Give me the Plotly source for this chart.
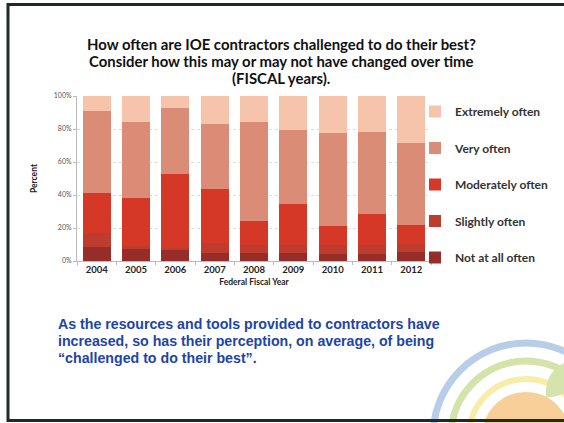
import plotly.graph_objects as go

years = ["2004", "2005", "2006", "2007", "2008", "2009", "2010", "2011", "2012"]
series_names = ["Not at all often", "Slightly often", "Moderately often", "Very often", "Extremely often"]
not_at_all = [8.5, 7.5, 6.5, 5.0, 5.0, 5.0, 4.5, 4.5, 5.5]
slightly = [8.5, 1.5, 1.5, 6.0, 4.5, 4.5, 5.0, 5.0, 5.0]
moderately = [24.4, 29.4, 44.7, 32.6, 14.9, 25.0, 11.7, 18.8, 11.3]
very = [49.7, 45.6, 40.2, 39.2, 60.0, 44.9, 56.2, 50.1, 49.5]
extremely = [8.9, 16.0, 7.1, 17.2, 15.6, 20.6, 22.6, 21.6, 28.7]
colors = ["#962D28", "#BE3C2D", "#D63828", "#DA8C76", "#F5C4AA"]

W, H = 564, 423
L, R, T, B = 77, 431, 96, 261


def px(x):
    return (x - L) / (R - L)


def py(y):
    return (B - y) / (B - T)


fig = go.Figure()
for i, (name, vals, col) in enumerate(zip(series_names, [not_at_all, slightly, moderately, very, extremely], colors)):
    fig.add_trace(go.Bar(x=years, y=vals, name=name, marker=dict(color=col, line=dict(width=0)),
                         legendgroup=name, legendrank=100 - i))

font_main = "Lato, Carlito, 'Open Sans', sans-serif"

fig.update_layout(
    width=W, height=H,
    margin=dict(l=L, r=W - R, t=T, b=H - B, autoexpand=False),
    barmode="stack", bargap=0.29,
    paper_bgcolor="#FFFFFF", plot_bgcolor="#FFFFFF",
    showlegend=True,
    legend=dict(x=px(415), y=py(97), xanchor="left", yanchor="top",
                traceorder="grouped", tracegroupgap=17.5, maxheight=400,
                font=dict(family=font_main, size=12, color="#333333", weight="bold"),
                itemwidth=30, bgcolor="rgba(0,0,0,0)"),
    xaxis=dict(showline=True, linecolor="#BBBBBB", linewidth=1, ticks="outside", tickson="boundaries",
               ticklen=3, tickcolor="#BBBBBB",
               tickfont=dict(family=font_main, size=9.5, color="#222222", weight="bold"),
               title=dict(text="Federal Fiscal Year", standoff=4,
                          font=dict(family=font_main, size=8.5, color="#222222", weight="bold"))),
    yaxis=dict(range=[0, 100], dtick=20, ticksuffix="%", showline=True, linecolor="#BBBBBB",
               ticks="outside", ticklen=3, tickcolor="#BBBBBB",
               showgrid=True, gridcolor="#DDDDDD", griddash="dot", gridwidth=1,
               tickfont=dict(family=font_main, size=7, color="#555555"),
               title=dict(text="Percent", standoff=14,
                          font=dict(family=font_main, size=8.5, color="#222222", weight="bold"))),
)

# Title lines
for txt, yy in [("How often are IOE contractors challenged to do their best?", 44),
                ("Consider how this may or may not have changed over time", 61),
                ("(FISCAL years).", 78)]:
    fig.add_annotation(text=txt, xref="paper", yref="paper", x=px(281), y=py(yy),
                       xanchor="center", yanchor="middle", showarrow=False,
                       font=dict(family=font_main, size=14.9, color="#111111", weight="bold"))

# Blue commentary text
for txt, yy in [("As the resources and tools provided to contractors have", 324),
                ("increased, so has their perception, on average, of being", 341),
                ("\u201cchallenged to do their best\u201d.", 358)]:
    fig.add_annotation(text=txt, xref="paper", yref="paper", x=px(56), y=py(yy),
                       xanchor="left", yanchor="middle", showarrow=False,
                       font=dict(family="'Liberation Sans', Arial, sans-serif", size=14.2,
                                 color="#1E44A8", weight="bold"))

# Slide frame
fig.add_shape(type="path", xref="paper", yref="paper",
              path=f"M {px(600)} {py(4.5)} L {px(8)} {py(4.5)} L {px(8)} {py(420.5)} L {px(600)} {py(420.5)}",
              line=dict(color="#1E2A24", width=3))

# Logo decoration (bottom right)
cx, cy = 526, 436
for r, col, w in [(93, "#B8CEE8", 7), (75, "#D3E3A9", 7), (57, "#F8EDA8", 6)]:
    fig.add_shape(type="circle", xref="paper", yref="paper",
                  x0=px(cx - r), x1=px(cx + r), y0=py(cy + r), y1=py(cy - r),
                  line=dict(color=col, width=w), layer="below")
rr = 44
fig.add_shape(type="circle", xref="paper", yref="paper",
              x0=px(cx - rr), x1=px(cx + rr), y0=py(cy + rr), y1=py(cy - rr),
              fillcolor="#F8CF98", line=dict(width=0), layer="below")
fig.add_shape(type="path", xref="paper", yref="paper",
              path=f"M {px(546)} {py(397)} Q {px(544)} {py(372)} {px(566)} {py(362)} "
                   f"L {px(566)} {py(392)} Q {px(556)} {py(398)} {px(546)} {py(397)} Z",
              fillcolor="#D5E4AC", line=dict(width=0), layer="below")

fig.write_html("out.html", config={"displayModeBar": False},
               post_script="document.body.style.margin='0';")
